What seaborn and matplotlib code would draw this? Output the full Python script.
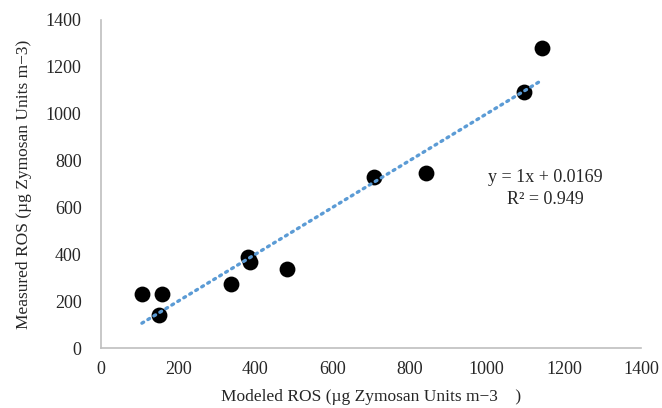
import numpy as np
import pandas as pd
import matplotlib
matplotlib.use("Agg")
import matplotlib.pyplot as plt
import seaborn as sns

modeled = [106, 150, 158, 337, 381, 386, 482, 708, 843, 1097, 1143]
measured = [231, 141, 231, 273, 389, 367, 338, 731, 748, 1094, 1282]
slope = 1.0
intercept = 0.0169
r2 = 0.949
ticks = [0, 200, 400, 600, 800, 1000, 1200, 1400]

df = pd.DataFrame({"Modeled": modeled, "Measured": measured})

sns.set_style("white")
plt.rcParams["font.family"] = ["Liberation Serif", "DejaVu Serif"]

fig = plt.figure(figsize=(6.62, 4.08), dpi=100)
ax = fig.add_axes([0.1526, 0.147, 0.8157, 0.804])

sns.scatterplot(data=df, x="Modeled", y="Measured", ax=ax, color="black",
                s=130, edgecolor="black", linewidth=0, zorder=2)

xs = np.array([min(modeled), max(modeled)])
ax.plot(xs, slope * xs + intercept, linestyle=(0, (0.6, 1.5)), color="#5B9BD5",
        linewidth=2.4, dash_capstyle="round", zorder=3)

ax.set_xlim(0, 1400)
ax.set_ylim(0, 1400)
ax.set_xticks(ticks)
ax.set_yticks(ticks)
ax.set_xticklabels([str(t) for t in ticks])
ax.set_yticklabels([str(t) for t in ticks])
ax.tick_params(axis="y", length=0, labelsize=13, colors="#262626", pad=14)
ax.tick_params(axis="x", length=0, labelsize=13, colors="#262626", pad=9)
for s in ["top", "right"]:
    ax.spines[s].set_visible(False)
for s in ["left", "bottom"]:
    ax.spines[s].set_color("#BFBFBF")
    ax.spines[s].set_linewidth(1.2)

ax.set_xlabel("Modeled ROS (\u00b5g Zymosan Units m\u22123    )", fontsize=12.5, color="#262626", labelpad=8)
ax.set_ylabel("Measured ROS (\u00b5g Zymosan Units m\u22123)", fontsize=12.5, color="#262626", labelpad=10)

ax.text(1151, 726, f"y = {slope:g}x + {intercept}", ha="center", va="center", fontsize=13, color="#262626")
ax.text(1151, 632, f"R\u00b2 = {r2}", ha="center", va="center", fontsize=13, color="#262626")

fig.savefig("out.png", dpi=100)
